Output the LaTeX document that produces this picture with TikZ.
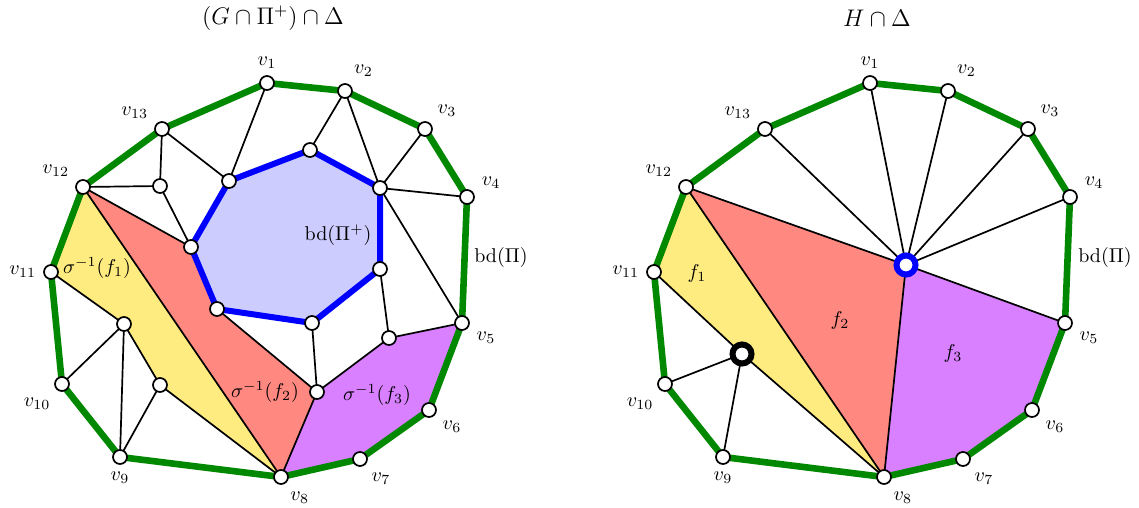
\documentclass[tikz,border=0pt]{standalone}
\usepackage{amsmath}
\usepackage{amssymb}
\usetikzlibrary{backgrounds}
\definecolor{bdgreen}{RGB}{0,136,0}
\definecolor{lightblue}{RGB}{204,204,255}
\definecolor{fyellow}{RGB}{255,236,128}
\definecolor{fred}{RGB}{255,136,128}
\definecolor{fpurple}{RGB}{216,128,255}

\begin{document}
\begin{tikzpicture}[x=0.5pt, y=-0.5pt,
  vtx/.style={circle, draw, fill=white, line width=0.85pt, minimum size=7pt, inner sep=0pt},
  hub/.style={circle, draw=blue, fill=white, line width=3pt, minimum size=9.5pt, inner sep=0pt},
  fat/.style={circle, draw=black, fill=white, line width=3pt, minimum size=9.5pt, inner sep=0pt},
  link/.style={line width=0.85pt},
  bdline/.style={draw=bdgreen, line width=3.3pt},
  bdplus/.style={draw=blue, fill=lightblue, line width=3pt}]
  \useasboundingbox (0,0) rectangle (1139,508);

  \node (ttlG) at (273,18) {\large $(G\cap\Pi^+)\cap\Delta$};
  \node (ttlH) at (877,18) {\large $H\cap\Delta$};

  \foreach \i/\x/\y/\a in {1/267/83/90, 2/345/91/75, 3/425/129/45, 4/467/197/11,
      5/462/323/-14, 6/429/410/-32, 7/360/459/-54, 8/281/477/-72, 9/120/457/-90,
      10/62/384/-125, 11/51/272/180, 12/83/187/150, 13/162/129/150} {
    \node[vtx, label=\a:$v_{\i}$] (g\i) at (\x,\y) {};
    \node[vtx, label=\a:$v_{\i}$] (h\i) at (\x+603,\y) {};
  }

  \node[vtx] (gp1) at (229,181) {};
  \node[vtx] (gp2) at (310,150) {};
  \node[vtx] (gp3) at (380,188) {};
  \node[vtx] (gp4) at (380,269) {};
  \node[vtx] (gp5) at (312,323) {};
  \node[vtx] (gp6) at (217,309) {};
  \node[vtx] (gp7) at (191,247) {};
  \node[vtx] (gq1) at (160,186) {};
  \node[vtx] (gq2) at (124,324) {};
  \node[vtx] (gq3) at (160,385) {};
  \node[vtx] (gq4) at (389,338) {};
  \node[vtx] (gq5) at (317,392) {};

  \node[hub] (hc) at (906,265) {};
  \node[fat] (hx) at (742,354) {};

  \begin{pgfonlayer}{background}
    \fill[fyellow] (g12.center) -- (g11.center) -- (gq2.center) -- (gq3.center) -- (g8.center) -- cycle;
    \fill[fred] (g12.center) -- (gp7.center) -- (gp6.center) -- (gq5.center) -- (g8.center) -- cycle;
    \fill[fpurple] (gq5.center) -- (gq4.center) -- (g5.center) -- (g6.center) -- (g7.center) -- (g8.center) -- cycle;
    \fill[fyellow] (h12.center) -- (h11.center) -- (hx.center) -- (h8.center) -- cycle;
    \fill[fred] (h12.center) -- (hc.center) -- (h8.center) -- cycle;
    \fill[fpurple] (hc.center) -- (h5.center) -- (h6.center) -- (h7.center) -- (h8.center) -- cycle;

    \draw[link] (g1.center) -- (gp1.center);
    \draw[link] (g13.center) -- (gq1.center);
    \draw[link] (g13.center) -- (gp1.center);
    \draw[link] (g12.center) -- (gq1.center) -- (gp7.center);
    \draw[link] (g12.center) -- (gp7.center);
    \draw[link] (g12.center) -- (g8.center);
    \draw[link] (g2.center) -- (gp2.center);
    \draw[link] (g2.center) -- (gp3.center);
    \draw[link] (g3.center) -- (gp3.center);
    \draw[link] (g4.center) -- (gp3.center);
    \draw[link] (gp3.center) -- (g5.center);
    \draw[link] (gp4.center) -- (gq4.center) -- (g5.center);
    \draw[link] (gq4.center) -- (gq5.center);
    \draw[link] (gp5.center) -- (gq5.center);
    \draw[link] (gp6.center) -- (gq5.center) -- (g8.center);
    \draw[link] (g11.center) -- (gq2.center) -- (gq3.center) -- (g8.center);
    \draw[link] (gq2.center) -- (g10.center);
    \draw[link] (gq2.center) -- (g9.center);
    \draw[link] (gq3.center) -- (g9.center);

    \foreach \i in {13,1,2,3,4,5,12,8}
      \draw[link] (hc.center) -- (h\i.center);
    \draw[link] (h12.center) -- (h8.center);
    \draw[link] (h11.center) -- (hx.center) -- (h8.center);
    \draw[link] (hx.center) -- (h10.center);
    \draw[link] (hx.center) -- (h9.center);

    \draw[bdplus] (gp1.center) -- (gp2.center) -- (gp3.center) -- (gp4.center)
      -- (gp5.center) -- (gp6.center) -- (gp7.center) -- cycle;
    \draw[bdline] (g1.center) \foreach \i in {2,...,13} {-- (g\i.center)} -- cycle;
    \draw[bdline] (h1.center) \foreach \i in {2,...,13} {-- (h\i.center)} -- cycle;
  \end{pgfonlayer}

  \node (sf1) at (97,268) {$\sigma^{-1}(f_1)$};
  \node (sf2) at (265,392) {$\sigma^{-1}(f_2)$};
  \node (sf3) at (377,395) {$\sigma^{-1}(f_3)$};
  \node (bdpg) at (338,235) {$\mathrm{bd}(\Pi^+)$};
  \node (bdg) at (501,257) {$\mathrm{bd}(\Pi)$};
  \node (bdh) at (1105,257) {$\mathrm{bd}(\Pi)$};
  \node (f1) at (697,273) {$f_1$};
  \node (f2) at (840,320) {$f_2$};
  \node (f3) at (953,353) {$f_3$};
\end{tikzpicture}
\end{document}
